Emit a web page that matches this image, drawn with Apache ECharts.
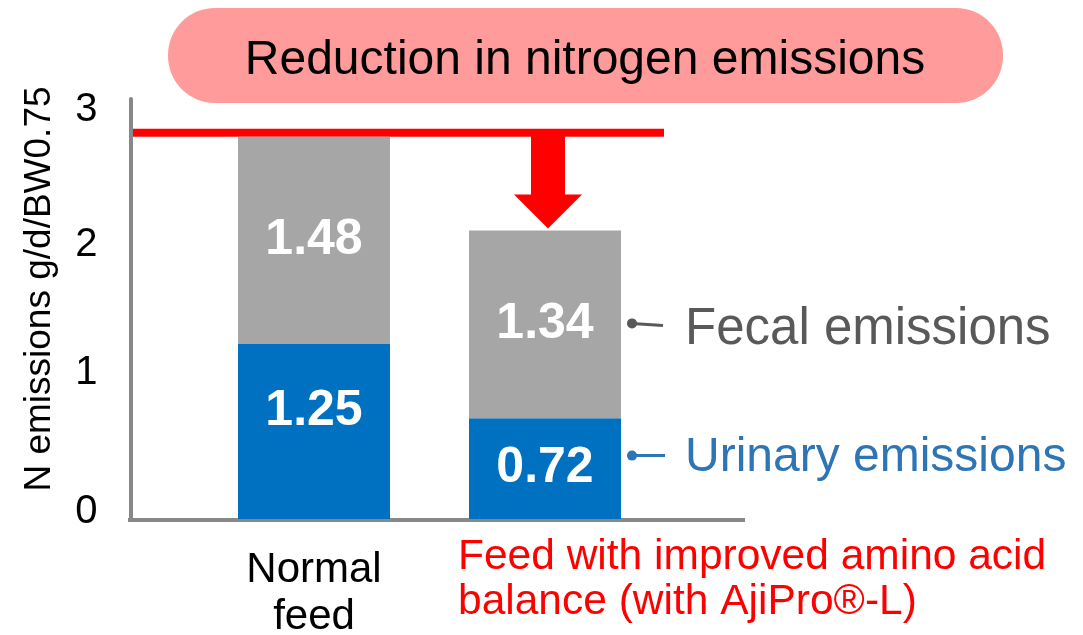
<!DOCTYPE html>
<html>
<head>
<meta charset="utf-8">
<script src="https://cdn.jsdelivr.net/npm/echarts@6/dist/echarts.min.js"></script>
<style>
  html, body { margin: 0; padding: 0; background: #fff; }
  #chart { width: 1083px; height: 635px; }
</style>
</head>
<body>
<div id="chart"></div>
<script>
var categories = ['Normal\nfeed', 'Feed with improved amino acid\nbalance (with AjiPro®-L)']
var seriesNames = ['Urinary emissions', 'Fecal emissions']
var urinary = [1.25, 0.72]
var fecal = [1.48, 1.34]
var yTicks = [0, 1, 2, 3]
var titleText = 'Reduction in nitrogen emissions'
var yName = 'N emissions g/d/BW0.75'

var font = 'Arial, "Liberation Sans", sans-serif'
var blue = '#0070C0'
var gray = '#A6A6A6'

var chart = echarts.init(document.getElementById('chart'))

// tick labels in the source sit a little squeezed towards the middle
var tickShift = { 0: -7, 1: -6, 2: 6, 3: 11 }
var tickRich = {}
yTicks.forEach(function (t) {
  var s = tickShift[t] || 0
  tickRich['t' + t] = {
    fontSize: 40, color: '#000', fontFamily: font,
    padding: s > 0 ? [2 * s, 0, 0, 0] : [0, 0, -2 * s, 0]
  }
})

function barLabel() {
  return {
    show: true,
    position: 'inside',
    color: '#fff',
    fontSize: 50,
    fontWeight: 'bold',
    fontFamily: font,
    formatter: function (p) {
      return p.value.toFixed(2)
    }
  }
}

var option = {
  backgroundColor: '#fff',
  animation: false,
  grid: {
    left: 198.5,
    width: 462,
    top: 99,
    bottom: 635 - 519,
    containLabel: false,
    outerBoundsMode: 'none'
  },
  xAxis: {
    type: 'category',
    data: [
      {
        value: categories[0],
        textStyle: { color: '#000', fontSize: 42, padding: [12, 0, 0, 0], lineHeight: 47 }
      },
      {
        value: categories[1],
        textStyle: {
          color: '#FF0000',
          align: 'center',
          width: 174,
          lineHeight: 45,
          rich: { a: { align: 'left', color: '#FF0000', fontSize: 42.5, fontFamily: font, lineHeight: 45 } }
        }
      }
    ],
    axisLine: { show: false },
    axisTick: { show: false },
    axisLabel: {
      interval: 0,
      margin: 16,
      fontSize: 42,
      fontFamily: font,
      formatter: function (v, i) {
        if (i === 1) {
          return v.split('\n').map(function (s) { return '{a|' + s + '}' }).join('\n')
        }
        return v
      }
    }
  },
  yAxis: {
    type: 'value',
    min: yTicks[0],
    max: yTicks[yTicks.length - 1],
    interval: 1,
    offset: 68,
    name: yName,
    nameLocation: 'middle',
    nameGap: 72,
    nameTextStyle: { fontSize: 37, color: '#000', fontFamily: font, padding: [0, 0, 0, 40] },
    axisLine: { show: true, lineStyle: { color: '#888', width: 4 } },
    axisTick: { show: false },
    splitLine: { show: false },
    axisLabel: {
      margin: 33,
      rich: tickRich,
      formatter: function (v) { return '{t' + v + '|' + v + '}' }
    }
  },
  series: [
    {
      name: seriesNames[0],
      type: 'bar',
      stack: 'n',
      barWidth: 152,
      itemStyle: { color: blue },
      label: barLabel(),
      data: urinary.map(function (v, i) {
        return i === 0 ? { value: v, label: { offset: [0, -20] } } : v
      })
    },
    {
      name: seriesNames[1],
      type: 'bar',
      stack: 'n',
      barWidth: 152,
      itemStyle: { color: gray },
      label: barLabel(),
      data: fecal
    }
  ]
}
chart.setOption(option)

// overlay: title pill, reduction arrow, axis baseline, side labels
var total1 = urinary[0] + fecal[0]
var total2 = urinary[1] + fecal[1]
var p1 = chart.convertToPixel({ seriesIndex: 0 }, [0, total1])
var p2 = chart.convertToPixel({ seriesIndex: 0 }, [1, total2])
var pU = chart.convertToPixel({ seriesIndex: 0 }, [1, urinary[1] / 2])
var pF = chart.convertToPixel({ seriesIndex: 0 }, [1, urinary[1] + fecal[1] / 2])
var base = chart.convertToPixel({ seriesIndex: 0 }, [0, 0])
var axisX = 130
var lineY = p1[1] - 4
var ax = p2[0] + 3
var tip = p2[1] - 2

chart.setOption({
  graphic: [
    {
      type: 'rect',
      shape: { x: 168, y: 8, width: 835, height: 95, r: 47 },
      style: { fill: '#FF9B9B' }
    },
    {
      type: 'text',
      x: 585, y: 61,
      style: { text: titleText, fill: '#000', fontSize: 48, fontFamily: font, align: 'center', verticalAlign: 'middle' }
    },
    {
      type: 'line',
      shape: { x1: axisX - 2, y1: base[1] + 1, x2: 745, y2: base[1] + 1 },
      style: { stroke: '#888', lineWidth: 4 }
    },
    {
      type: 'line',
      shape: { x1: axisX, y1: lineY, x2: 664, y2: lineY },
      style: { stroke: '#FF0000', lineWidth: 8 }
    },
    {
      type: 'polygon',
      shape: {
        points: [
          [ax - 17, lineY], [ax + 17, lineY], [ax + 17, tip - 34], [ax + 34, tip - 34],
          [ax, tip], [ax - 34, tip - 34], [ax - 17, tip - 34]
        ]
      },
      style: { fill: '#FF0000' }
    },
    {
      type: 'circle',
      shape: { cx: 632, cy: pF[1] - 1, r: 5 },
      style: { fill: '#595959' }
    },
    {
      type: 'line',
      shape: { x1: 632, y1: pF[1] - 1, x2: 663, y2: pF[1] + 1 },
      style: { stroke: '#595959', lineWidth: 3 }
    },
    {
      type: 'text',
      x: 685, y: pF[1] + 6,
      style: { text: seriesNames[1], fill: '#595959', fontSize: 51, fontFamily: font, verticalAlign: 'middle' }
    },
    {
      type: 'circle',
      shape: { cx: 632, cy: pU[1] - 13, r: 5 },
      style: { fill: '#2E75B6' }
    },
    {
      type: 'line',
      shape: { x1: 632, y1: pU[1] - 13, x2: 665, y2: pU[1] - 13 },
      style: { stroke: '#2E75B6', lineWidth: 3 }
    },
    {
      type: 'text',
      x: 685, y: pU[1] - 11,
      style: { text: seriesNames[0], fill: '#2E75B6', fontSize: 48, fontFamily: font, verticalAlign: 'middle' }
    }
  ]
})
</script>
</body>
</html>
